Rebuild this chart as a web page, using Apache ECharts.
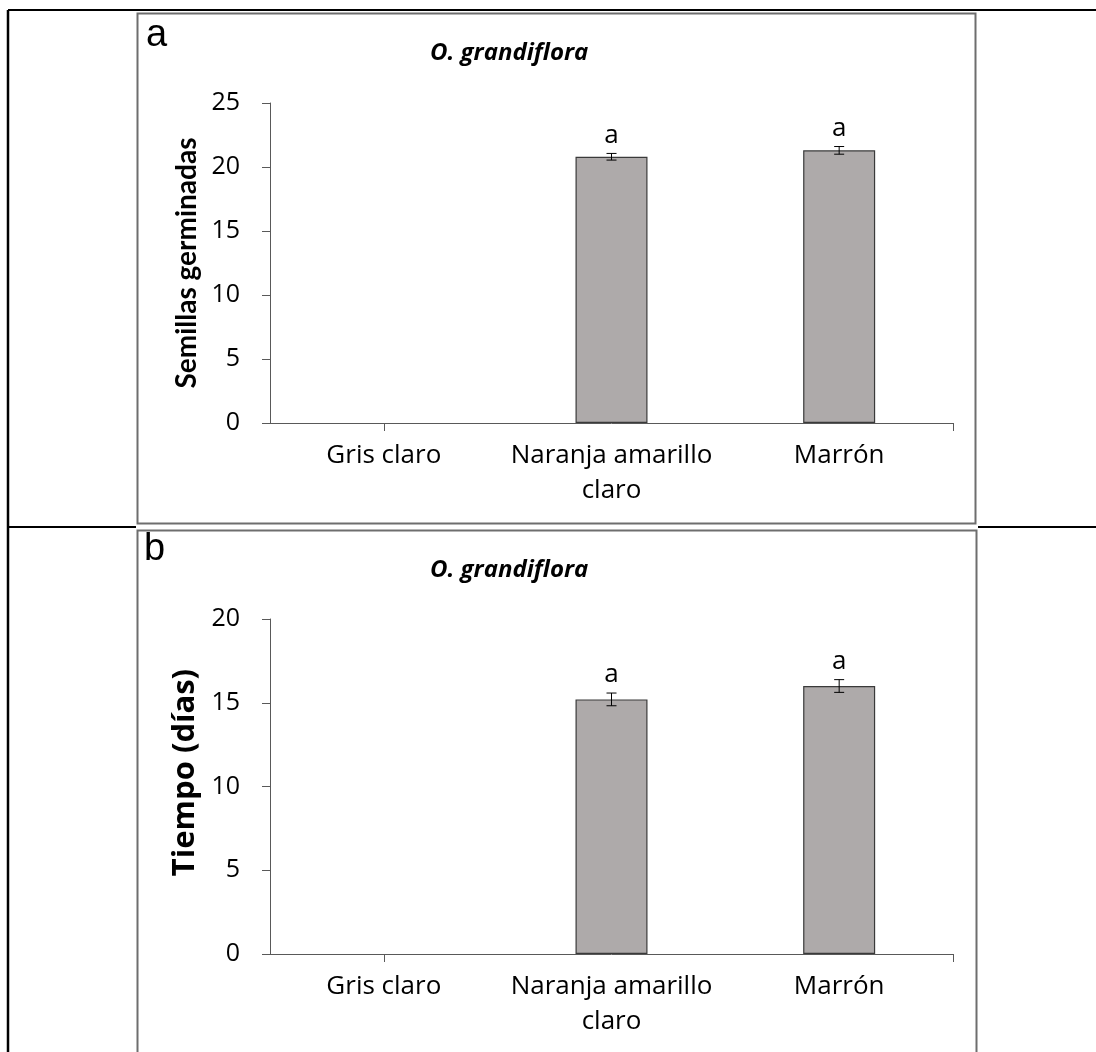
<!DOCTYPE html>
<html>
<head>
<meta charset="utf-8">
<title>O. grandiflora – germinación</title>
<script src="https://cdn.jsdelivr.net/npm/echarts@6/dist/echarts.min.js"></script>
<style>
  html, body { margin: 0; padding: 0; background: #fff; }
  #chart { width: 1096px; height: 1052px; }
</style>
</head>
<body>
<div id="chart"></div>
<script>
// Seed colour categories
const categories = ['Gris claro', 'Naranja amarillo\nclaro', 'Marrón'];

// Panel a: germinated seeds (mean ± SE) and significance letters
const germinatedMean = [0, 20.8, 21.3];
const germinatedErr = [0, 0.26, 0.3];
const germinatedLetters = ['', 'a', 'a'];

// Panel b: germination time in days (mean ± SE) and significance letters
const daysMean = [null, 15.2, 16.0];
const daysErr = [null, 0.38, 0.38];
const daysLetters = ['', 'a', 'a'];

// Value axis ranges
const germinatedAxis = { min: 0, max: 25, interval: 5 };
const daysAxis = { min: 0, max: 20, interval: 5 };

const panelTitle = 'O. grandiflora';
const panelNames = ['a', 'b'];
const yNames = ['Semillas germinadas', 'Tiempo (días)'];

const FONT = '"Open Sans", "Noto Sans", sans-serif';
const AXIS_COLOR = '#595959';

function errorSeries(gridIdx, means, errs, letters) {
  const data = means.map((m, i) => [i, m == null ? NaN : m, errs[i] == null ? 0 : errs[i]]);
  return {
    type: 'custom',
    xAxisIndex: gridIdx * 2,
    yAxisIndex: gridIdx,
    z: 5,
    encode: { x: 0, y: 1 },
    data: data,
    renderItem: function (params, api) {
      const x = api.value(0);
      const m = api.value(1);
      const e = api.value(2);
      if (isNaN(m) || m === 0) return null;
      const top = api.coord([x, m + e]);
      const bot = api.coord([x, m - e]);
      const cap = 5;
      const st = { stroke: '#000', lineWidth: 1 };
      return {
        type: 'group',
        children: [
          { type: 'line', shape: { x1: top[0], y1: top[1], x2: bot[0], y2: bot[1] }, style: st },
          { type: 'line', shape: { x1: top[0] - cap, y1: top[1], x2: top[0] + cap, y2: top[1] }, style: st },
          { type: 'line', shape: { x1: bot[0] - cap, y1: bot[1], x2: bot[0] + cap, y2: bot[1] }, style: st },
          {
            type: 'text',
            style: {
              text: letters[params.dataIndex],
              x: top[0], y: top[1] - 5,
              align: 'center', verticalAlign: 'bottom',
              font: '26px ' + FONT, fill: '#000'
            }
          }
        ]
      };
    }
  };
}

function xAxes(gridIdx) {
  return [
    {
      type: 'category',
      gridIndex: gridIdx,
      data: categories,
      boundaryGap: true,
      axisLine: { lineStyle: { color: AXIS_COLOR, width: 1 } },
      axisTick: {
        show: true, alignWithLabel: true, length: 8,
        interval: function (i) { return i === 0; },
        lineStyle: { color: AXIS_COLOR }
      },
      axisLabel: {
        color: '#000', fontFamily: FONT, fontSize: 26,
        margin: 15, lineHeight: 35, interval: 0
      },
      splitLine: { show: false }
    },
    {
      // closing tick at the right end of the category axis
      type: 'value',
      gridIndex: gridIdx,
      min: 0, max: categories.length,
      position: 'bottom',
      axisLine: { show: false },
      axisLabel: { show: false },
      splitLine: { show: false },
      axisTick: {
        show: true, length: 8,
        customValues: [categories.length],
        lineStyle: { color: AXIS_COLOR }
      }
    }
  ];
}

function yAxis(gridIdx, range, name, nameFont, nameSize, namePad) {
  return {
    type: 'value',
    gridIndex: gridIdx,
    min: range.min, max: range.max, interval: range.interval,
    name: name,
    nameLocation: 'middle',
    nameGap: 68,
    nameRotate: 90,
    nameTextStyle: {
      color: '#000', fontFamily: nameFont, fontWeight: 'bold', fontSize: nameSize,
      padding: namePad
    },
    axisLine: { show: true, lineStyle: { color: AXIS_COLOR, width: 1 } },
    axisTick: { show: true, length: 8, lineStyle: { color: AXIS_COLOR } },
    axisLabel: { color: '#000', fontFamily: FONT, fontSize: 25, margin: 30 },
    splitLine: { show: false }
  };
}

function barSeries(gridIdx, values) {
  return {
    type: 'bar',
    xAxisIndex: gridIdx * 2,
    yAxisIndex: gridIdx,
    // a zero-height column leaves no outline on the axis
    data: values.map(v => (v == null ? '-' : (v === 0 ? { value: 0, itemStyle: { borderWidth: 0 } } : v))),
    barWidth: 72,
    itemStyle: { color: '#AEAAAA', borderColor: '#3a3a3a', borderWidth: 1.2 }
  };
}

const chart = echarts.init(document.getElementById('chart'), null, { renderer: 'canvas' });

const option = {
  backgroundColor: '#fff',
  animation: false,
  grid: [
    { left: 270, top: 103, width: 683, height: 320 },
    { left: 270, top: 619, width: 683, height: 335 }
  ],
  xAxis: [].concat(xAxes(0), xAxes(1)),
  yAxis: [
    yAxis(0, germinatedAxis, yNames[0], 'Lato, ' + FONT, 28, 0),
    yAxis(1, daysAxis, yNames[1], FONT, 31, [0, 0, 0, 28])
  ],
  series: [
    barSeries(0, germinatedMean),
    errorSeries(0, germinatedMean, germinatedErr, germinatedLetters),
    barSeries(1, daysMean),
    errorSeries(1, daysMean, daysErr, daysLetters)
  ],
  graphic: [
    // table rules
    { type: 'line', shape: { x1: 8, y1: 10, x2: 8, y2: 1052 }, style: { stroke: '#000', lineWidth: 2.5 } },
    { type: 'line', shape: { x1: 8, y1: 10, x2: 1096, y2: 10 }, style: { stroke: '#000', lineWidth: 2 } },
    { type: 'line', shape: { x1: 8, y1: 527, x2: 136, y2: 527 }, style: { stroke: '#000', lineWidth: 2 } },
    { type: 'line', shape: { x1: 978, y1: 527, x2: 1096, y2: 527 }, style: { stroke: '#000', lineWidth: 2 } },
    // chart frames
    { type: 'rect', shape: { x: 137.5, y: 13.5, width: 838, height: 510 }, style: { fill: 'transparent', stroke: '#6e6e6e', lineWidth: 2 }, z: 1 },
    { type: 'rect', shape: { x: 137.5, y: 530.5, width: 839, height: 600 }, style: { fill: 'transparent', stroke: '#6e6e6e', lineWidth: 2 }, z: 1 },
    // panel letters
    { type: 'text', left: 146, top: 17, style: { text: panelNames[0], font: '38px "Liberation Sans", Arial, sans-serif', fill: '#000' } },
    { type: 'text', left: 144, top: 531, style: { text: panelNames[1], font: '38px "Liberation Sans", Arial, sans-serif', fill: '#000' } },
    // panel titles
    { type: 'text', left: 430, top: 41, style: { text: panelTitle, font: 'italic bold 24px ' + FONT, fill: '#000' } },
    { type: 'text', left: 430, top: 558, style: { text: panelTitle, font: 'italic bold 24px ' + FONT, fill: '#000' } }
  ]
};

chart.setOption(option);
</script>
</body>
</html>
